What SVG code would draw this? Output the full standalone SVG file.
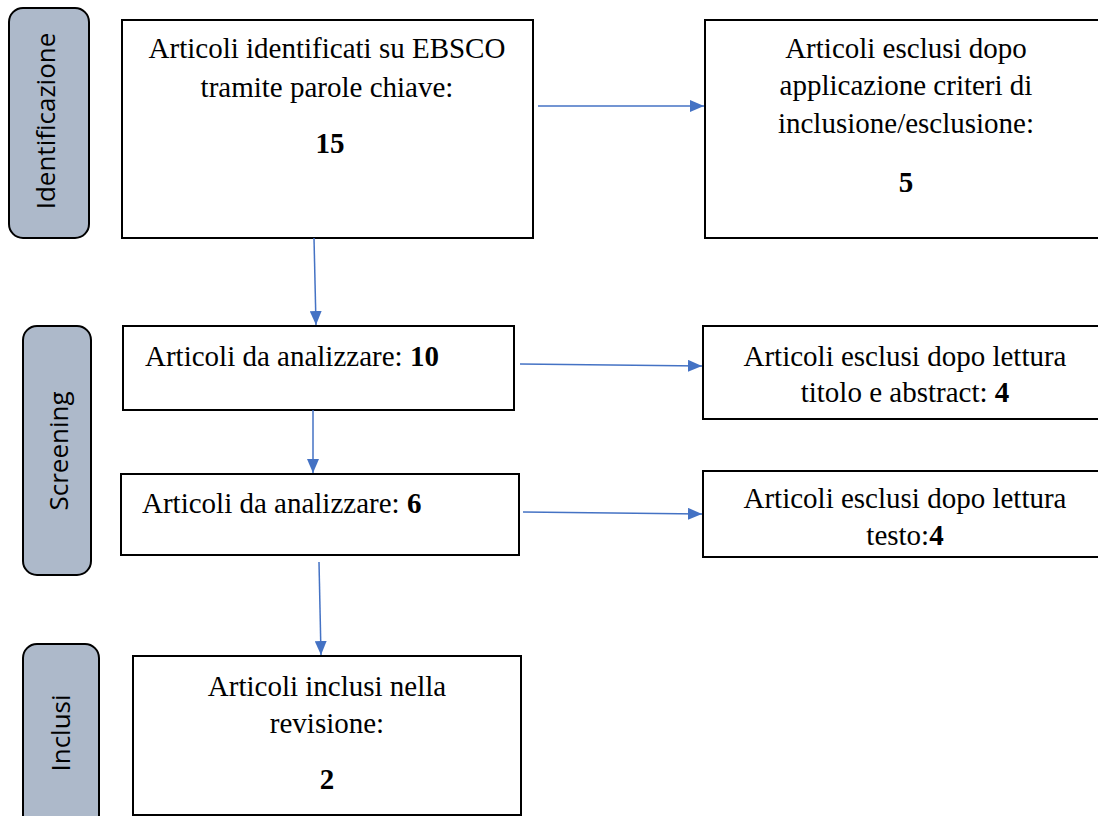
<svg xmlns="http://www.w3.org/2000/svg" width="1098" height="816" viewBox="0 0 1098 816">
<defs>
<marker id="ah" viewBox="0 0 14 12" refX="14" refY="6" markerWidth="14" markerHeight="12" markerUnits="userSpaceOnUse" orient="auto">
<path d="M0,0 L14,6 L0,12 z" fill="#4472C4"/>
</marker>
<style>
.phase{fill:#ADB9CA;stroke:#000;stroke-width:2}
.plabel{font-family:"Open Sans","Noto Sans",sans-serif;font-size:26px;fill:#000;text-anchor:middle;dominant-baseline:central}
.box{fill:#fff;stroke:#000;stroke-width:2}
.t{font-family:"Liberation Serif","Times New Roman",serif;font-size:29px;fill:#000}
.c{text-anchor:middle}
.b{font-weight:bold}
.conn{stroke:#4472C4;stroke-width:1.5;fill:none;marker-end:url(#ah)}
</style>
</defs>
<rect width="1098" height="816" fill="#fff"/>

<g id="phase-identificazione">
<rect class="phase" x="9" y="8" width="80" height="230" rx="14"/>
<text class="plabel" transform="translate(45,121) rotate(-90)">Identificazione</text>
</g>
<g id="phase-screening">
<rect class="phase" x="23" y="326" width="68" height="249" rx="14"/>
<text class="plabel" transform="translate(58,451) rotate(-90)">Screening</text>
</g>
<g id="phase-inclusi">
<rect class="phase" x="23" y="644" width="76" height="190" rx="14"/>
<text class="plabel" transform="translate(60,733) rotate(-90)">Inclusi</text>
</g>

<g id="box-identificati">
<rect class="box" x="122" y="20" width="411" height="218"/>
<text class="t c" x="327" y="58">Articoli identificati su EBSCO</text>
<text class="t c" x="327" y="97">tramite parole chiave:</text>
<text class="t c b" x="330" y="153">15</text>
</g>
<g id="box-esclusi-criteri">
<rect class="box" x="705" y="20" width="400" height="218"/>
<text class="t c" x="906" y="58">Articoli esclusi dopo</text>
<text class="t c" x="906" y="95">applicazione criteri di</text>
<text class="t c" x="906" y="133">inclusione/esclusione:</text>
<text class="t c b" x="906" y="192">5</text>
</g>
<g id="box-analizzare-10">
<rect class="box" x="123" y="326" width="391" height="84"/>
<text class="t" x="145" y="366">Articoli da analizzare: <tspan class="b">10</tspan></text>
</g>
<g id="box-esclusi-abstract">
<rect class="box" x="703" y="326" width="400" height="93"/>
<text class="t c" x="905" y="366">Articoli esclusi dopo lettura</text>
<text class="t c" x="905" y="402">titolo e abstract: <tspan class="b">4</tspan></text>
</g>
<g id="box-analizzare-6">
<rect class="box" x="121" y="474" width="398" height="81"/>
<text class="t" x="142" y="513">Articoli da analizzare: <tspan class="b">6</tspan></text>
</g>
<g id="box-esclusi-testo">
<rect class="box" x="703" y="471" width="400" height="86"/>
<text class="t c" x="905" y="508">Articoli esclusi dopo lettura</text>
<text class="t c" x="905" y="545">testo:<tspan class="b">4</tspan></text>
</g>
<g id="box-inclusi">
<rect class="box" x="133" y="656" width="388" height="159"/>
<text class="t c" x="327" y="696">Articoli inclusi nella</text>
<text class="t c" x="327" y="733">revisione:</text>
<text class="t c b" x="327" y="789">2</text>
</g>

<g id="connectors">
<line class="conn" x1="538" y1="106" x2="704" y2="106"/>
<line class="conn" x1="314" y1="238" x2="316" y2="325"/>
<line class="conn" x1="520" y1="364" x2="702" y2="366"/>
<line class="conn" x1="313" y1="410" x2="313" y2="473"/>
<line class="conn" x1="523" y1="512" x2="702" y2="514"/>
<line class="conn" x1="319" y1="562" x2="321" y2="655"/>
</g>
</svg>
